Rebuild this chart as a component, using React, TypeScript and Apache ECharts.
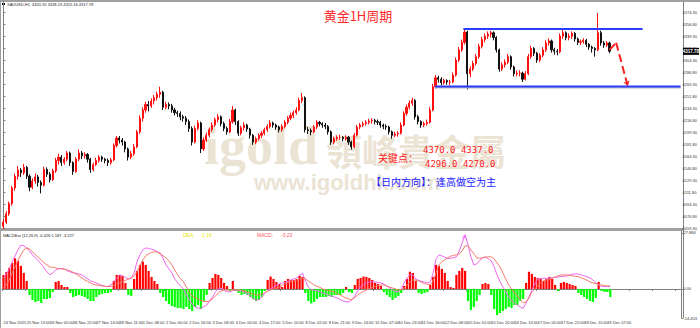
import React, { useEffect, useRef } from 'react';
import * as echarts from 'echarts';

// [open, close, low, high] per 2-hour bar
const candles: number[][] = [
  [4062,4068,4058,4072],[4068,4080,4065,4084],[4080,4095,4077,4098],[4095,4118,4092,4121],[4118,4135,4114,4139],
  [4135,4144,4130,4150],[4144,4140,4134,4147],[4140,4148,4137,4153],[4148,4135,4131,4150],[4135,4119,4113,4138],
  [4119,4128,4116,4132],[4128,4134,4124,4139],[4134,4126,4120,4137],[4126,4122,4110,4129],[4122,4145,4120,4149],
  [4145,4138,4134,4148],[4138,4130,4126,4141],[4130,4143,4128,4146],[4143,4158,4140,4162],[4158,4163,4152,4168],
  [4163,4155,4150,4166],[4155,4160,4152,4163],[4160,4169,4157,4172],[4169,4155,4150,4171],[4155,4142,4137,4157],
  [4142,4160,4140,4163],[4160,4169,4157,4174],[4169,4165,4160,4172],[4165,4167,4161,4170],[4167,4160,4155,4169],
  [4160,4145,4140,4162],[4145,4152,4142,4155],[4152,4158,4150,4162],[4158,4163,4155,4166],[4163,4160,4156,4165],
  [4160,4158,4154,4162],[4158,4155,4150,4161],[4155,4159,4152,4162],[4159,4180,4157,4183],[4180,4191,4177,4194],
  [4191,4188,4183,4194],[4188,4185,4180,4191],[4185,4175,4170,4187],[4175,4163,4158,4177],[4163,4168,4160,4172],
  [4168,4178,4165,4182],[4178,4200,4176,4203],[4200,4220,4197,4224],[4220,4232,4215,4236],[4232,4240,4228,4244],
  [4240,4238,4230,4245],[4238,4245,4235,4249],[4245,4250,4240,4254],[4250,4255,4246,4259],[4255,4258,4250,4266],
  [4258,4236,4232,4260],[4236,4240,4233,4244],[4240,4238,4233,4243],[4238,4232,4228,4241],[4232,4228,4224,4235],
  [4228,4227,4222,4231],[4227,4222,4217,4230],[4222,4220,4215,4225],[4220,4215,4210,4223],[4215,4205,4200,4218],
  [4205,4185,4180,4208],[4185,4205,4183,4209],[4205,4213,4202,4217],[4213,4175,4169,4215],[4175,4188,4172,4192],
  [4188,4195,4185,4199],[4195,4203,4192,4206],[4203,4210,4200,4214],[4210,4218,4207,4221],[4218,4222,4214,4226],
  [4222,4212,4208,4224],[4212,4205,4201,4215],[4205,4200,4196,4208],[4200,4215,4198,4219],[4215,4232,4212,4238],
  [4232,4215,4210,4234],[4215,4198,4194,4217],[4198,4206,4195,4209],[4206,4210,4202,4214],[4210,4204,4200,4212],
  [4204,4195,4190,4206],[4195,4185,4181,4197],[4185,4190,4182,4193],[4190,4195,4187,4198],[4195,4198,4191,4201],
  [4198,4203,4195,4206],[4203,4208,4200,4211],[4208,4213,4205,4217],[4213,4210,4206,4215],[4210,4207,4203,4212],
  [4207,4203,4199,4209],[4203,4208,4200,4211],[4208,4214,4205,4217],[4214,4220,4211,4223],[4220,4224,4217,4228],
  [4224,4228,4220,4231],[4228,4232,4225,4236],[4232,4246,4230,4250],[4246,4250,4242,4257],[4250,4203,4199,4252],
  [4203,4202,4197,4207],[4202,4200,4195,4205],[4200,4207,4198,4210],[4207,4214,4204,4217],[4214,4212,4208,4216],
  [4212,4210,4206,4214],[4210,4208,4204,4213],[4208,4200,4196,4210],[4200,4185,4181,4202],[4185,4190,4182,4193],
  [4190,4192,4187,4195],[4192,4192,4188,4196],[4192,4190,4186,4194],[4190,4192,4187,4195],[4192,4185,4181,4194],
  [4185,4178,4174,4187],[4178,4195,4176,4198],[4195,4207,4193,4210],[4207,4210,4204,4213],[4210,4212,4207,4215],
  [4212,4214,4209,4217],[4214,4216,4211,4219],[4216,4217,4212,4220],[4217,4215,4211,4219],[4215,4214,4210,4218],
  [4214,4210,4206,4216],[4210,4208,4204,4212],[4208,4207,4203,4211],[4207,4200,4196,4209],[4200,4195,4190,4202],
  [4195,4197,4192,4200],[4197,4198,4193,4201],[4198,4210,4196,4214],[4210,4227,4208,4230],[4227,4236,4224,4240],
  [4236,4242,4233,4246],[4242,4246,4238,4250],[4246,4222,4218,4248],[4222,4215,4211,4225],[4215,4210,4206,4217],
  [4210,4212,4207,4215],[4212,4214,4209,4218],[4214,4232,4212,4236],[4232,4266,4230,4270],[4266,4279,4263,4283],
  [4279,4277,4272,4282],[4277,4272,4268,4280],[4272,4275,4269,4278],[4275,4273,4269,4277],[4273,4273,4268,4276],
  [4273,4283,4271,4287],[4283,4305,4281,4309],[4305,4320,4302,4324],[4320,4331,4317,4335],[4331,4346,4328,4350],
  [4346,4285,4262,4348],[4285,4292,4280,4296],[4292,4300,4289,4304],[4300,4310,4297,4314],[4310,4325,4307,4329],
  [4325,4335,4322,4339],[4335,4340,4331,4344],[4340,4343,4336,4347],[4343,4345,4338,4348],[4345,4338,4334,4347],
  [4338,4320,4316,4340],[4320,4292,4288,4322],[4292,4298,4289,4302],[4298,4302,4294,4306],[4302,4310,4299,4314],
  [4310,4295,4291,4312],[4295,4285,4281,4297],[4285,4286,4281,4290],[4286,4286,4281,4290],[4286,4277,4273,4288],
  [4277,4285,4275,4289],[4285,4310,4283,4314],[4310,4322,4307,4326],[4322,4315,4311,4324],[4315,4305,4301,4317],
  [4305,4312,4302,4315],[4312,4320,4309,4324],[4320,4330,4317,4334],[4330,4333,4326,4337],[4333,4320,4316,4335],
  [4320,4318,4313,4323],[4318,4317,4312,4321],[4317,4340,4315,4344],[4340,4345,4336,4349],[4345,4338,4334,4347],
  [4338,4340,4334,4344],[4340,4344,4336,4347],[4344,4336,4332,4346],[4336,4331,4327,4338],[4331,4332,4327,4335],
  [4332,4334,4329,4337],[4334,4328,4324,4336],[4328,4324,4320,4330],[4324,4322,4316,4326],[4322,4320,4310,4324],
  [4320,4345,4318,4374],[4345,4330,4326,4348],[4330,4327,4323,4333],[4327,4330,4324,4333],[4330,4318,4315,4332]
];

const macdHist: number[] = [
  7,8.5,10.5,13,15.3,14,11.5,8,4,-3,
  -5.5,-6.5,-6,-7,-5,-5,-4.5,-1.5,3.5,4,
  2,1,1,-2,-4,-3.5,-3,-3.5,-4,-5,
  -6,-6,-4,-3,-2.5,-2,-2,-1.5,4,7,
  7,6.5,3,-3,-3.5,5,9,12,13.6,12,
  9,6,4,2.5,-2,-4,-6,-7.5,-8.5,-9,
  -9.5,-9.5,-10,-9,-10,-11,-9,-8,-10,-6,
  -3,3,5.5,7.5,7,5.5,3,1.5,-1,4,
  -1,-2,-3,-2.5,-3,-4,-5,-6,-5.5,-4,
  -1,4.5,6.2,5,3.5,2.5,1,4,5,4.5,
  4.5,5,6.5,6,-2,-6,-7.2,-6.5,-5,-4,
  -4,-4,-3.5,-4,-3,-3,-3,-2,1,-1.5,
  -2,2,5,5.5,6.2,6,5.5,4.5,3,2.5,
  1.5,-1.5,-3,-4,-5.5,-4.5,-3.5,-2,1.5,5,
  8.6,8,4,-2,-2.5,-2,-1.5,2,6,12,
  11.5,10,8,4,1,0.5,7,9,10.5,9,
  -6,-10.5,-9,-6,-3,2.5,3,2.5,-3,-10,
  -13,-12,-11,-10,-9,-9.5,-8,-8,-6,-5,
  3,8.6,7.5,6,5.5,5,4,5,6,5,
  2,-1,3,3.5,3,2.5,2,1.5,-2,-3,
  -4,-5,-6,-6.5,-4.5,3.5,-1,-1.5,-1.5,-4
];

const macdLine: number[] = [
  5.5,7.5,10,13.5,16.5,19.5,21.8,21.5,20.4,19,
  17,15.5,14,12.5,10.5,8.5,7,8,9.5,10,
  10.3,10,9,8.5,8,7.8,7.4,7,6,5,
  4,3.6,3,2.3,1.8,1.3,1.2,2,3.6,5.5,
  7,6.5,5.8,5,5.3,8,13.6,17,19.5,20.4,
  20.2,19.8,19.4,18.5,18,15,12,10,8,5,
  3,1.5,0,-3,-5.5,-7.5,-9,-9.6,-9.5,-8.8,
  -8,-6,-4,-1.5,0,0.3,-0.5,-1.5,-1.4,-0.8,
  -0.5,-0.8,-1,-1.5,-2.5,-3.5,-4.8,-5.5,-5.2,-4,
  -2,-1,0,1,1.8,2.5,3,3.2,3.8,4.5,
  5,5.5,7,7.8,4,1,-0.5,-0.5,-1,-1.4,
  -2,-2.5,-3,-3.5,-4,-4.5,-5.3,-6,-6.3,-6.5,
  -5.5,-3.5,-1,1.2,2.2,3,3.5,3.6,3.5,3.3,
  3,2.5,1.5,0.5,-0.5,-1.2,-1.4,0,3,5.5,
  7,7,5,4.3,3.8,3.5,3,3.5,8,15,
  17,16.5,15.8,15.3,15.3,15.6,16,19,23,27,
  22,16,12,12.5,14,15.6,16,15,14,11,
  7,3.6,1,-1.5,-4,-5.5,-7,-8,-9,-9.6,
  -7,-4,-0.5,2.5,5,5.3,5.3,5.3,5.5,5.5,
  5.8,6,6.2,6.3,6.5,7,7.3,7.5,7.5,7,
  6.5,6,5.5,4.5,3,2,1.2,1.2,1.2,1.2
];

const signalLine: number[] = [
  0.5,2,4.5,8,11,14,17,19.5,20.4,20,
  18.5,17,15.8,14.5,13,12,11,10.8,10.5,10.2,
  10,9.8,9.5,9,8.3,7.5,6.5,5.5,4.5,3.8,
  3,2.3,2,1.7,1.5,1.3,1.2,1.3,1.8,2.5,
  3,3.6,4.3,5,5.5,6.5,8.5,11.5,14.5,16.5,
  17.5,18.2,18.6,18.4,17.5,16.5,15.5,14,12,9.5,
  7,5.2,3.5,1,-1.5,-3.5,-4.3,-5,-5.8,-6.2,
  -6.3,-6,-5,-3.5,-2,-1,-0.5,-0.5,-0.5,-0.5,
  -0.5,-0.5,-0.6,-1,-1.5,-2,-2.5,-3,-3,-2.5,
  -1.8,-1,-0.5,0,0.5,1,1.8,2.5,3.2,3.6,
  4,4.5,5,5.3,5,4,3,2,1.3,0.8,
  0,-0.5,-0.8,-1.2,-1.5,-2.3,-3,-3.8,-4.5,-5,
  -5.3,-4.3,-3,-2,-1.2,-0.5,0.2,0.8,1.3,1.7,
  2,2,1.5,1,0.5,0,-0.5,-0.3,0.5,2,
  3.5,4.5,4.5,4,3.3,2.7,2.3,2,4,8,
  12,13.6,14.5,15.5,16.3,16.8,17,17.5,19,21.5,
  21.5,19.5,17.5,15.5,15.3,15.5,15.8,16,16,15,
  13,11,8,5,2,0,-2,-3.5,-5.5,-6.8,
  -6.5,-4.5,-1.5,0,1.5,3,4,4.5,5,5.5,
  6,6.5,7,7,7,6.8,6.5,6.3,6.2,5.5,
  5,4.3,3.5,3,2.7,2.3,2,1.7,1.5,1.5
];

const xTickLabels: string[] = [
  '24 Nov 2025','25 Nov 13:00','26 Nov 05:00','26 Nov 22:00','27 Nov 14:00','28 Nov 11:00',
  '1 Dec 08:00','2 Dec 00:00','2 Dec 16:00','3 Dec 08:00','4 Dec 00:00','4 Dec 17:00',
  '5 Dec 10:00','8 Dec 02:00','8 Dec 21:00','9 Dec 14:00','10 Dec 07:00','10 Dec 23:00',
  '11 Dec 16:00','12 Dec 08:00','15 Dec 01:00','15 Dec 20:00','16 Dec 13:00','17 Dec 05:00',
  '17 Dec 22:00','18 Dec 15:00','19 Dec 07:00'
];

const priceTicks: number[] = [
  4374.3,4356.8,4339.3,4321.8,4304.3,4286.8,4269.3,4251.8,4234.3,4216.8,
  4199.3,4181.8,4164.3,4146.8,4129.3,4111.8,4094.3,4076.8,4059.3
];
const macdTicks: number[] = [27.884, 0, -14.453];

const resistanceLine: number[][] = [[158.6, 4350.5], [220.4, 4350.5]];
const supportLine: number[][] = [[148.9, 4266.4], [233.5, 4266.4]];
const arrowPath: number[][] = [[209, 4320], [211.3, 4330.4], [215.3, 4267]];
const lastPrice = 4317.78;
const totalSlots = 234;

const categories: string[] = Array.from({ length: totalSlots }, (_, i) => String(i));

const FONT = 'Liberation Sans';
const WM = '#ebe4d5';

function buildGraphics(tagY: number | null) {
  const g: any[] = [
    { id: 'wm1', type: 'text', x: 204, y: 173, z: -1, silent: true,
      style: { text: 'igold', fill: WM, fontSize: 54, fontWeight: 'bold', fontFamily: 'Liberation Serif', textVerticalAlign: 'bottom' } },
    { id: 'wm2', type: 'text', x: 326, y: 150, z: -1, silent: true,
      style: { text: '領峰貴金屬', fill: WM, fontSize: 36, fontWeight: 'bold', fontFamily: 'Noto Sans CJK TC', textVerticalAlign: 'middle' } },
    { id: 'wm3', type: 'text', x: 254, y: 182, z: -1, silent: true,
      style: { text: 'www.igoldhk.com', fill: WM, fontSize: 22, fontWeight: 'bold', fontFamily: FONT, textVerticalAlign: 'middle' } },
    { id: 'top', type: 'rect', shape: { x: 0, y: 0, width: 700, height: 2 }, style: { fill: '#a0a0a0' }, silent: true },
    { id: 'left', type: 'rect', shape: { x: 0, y: 0, width: 1, height: 328 }, style: { fill: '#a0a0a0' }, silent: true },
    { id: 'sep', type: 'rect', shape: { x: 0, y: 228, width: 684, height: 3 }, style: { fill: '#a0a0a0' }, silent: true },
    { id: 'vline', type: 'line', shape: { x1: 683.5, y1: 2, x2: 683.5, y2: 318 }, style: { stroke: '#808080', lineWidth: 1 }, silent: true },
    { id: 'info1', type: 'rect', shape: { x: 2, y: 3, width: 3, height: 2 }, style: { fill: '#000' }, silent: true },
    { id: 'info', type: 'text', x: 7, y: 4.5, silent: true,
      style: { text: 'XAUUSD,H1  4320.92 4328.23 4315.16 4317.78', fill: '#222', fontSize: 4, fontFamily: FONT, textVerticalAlign: 'middle' } },
    { id: 'title', type: 'text', x: 358, y: 15, z: 100, silent: true,
      style: { text: '黄金1H周期', fill: '#ff2a2a', fontSize: 13, fontFamily: 'Noto Sans CJK SC', textAlign: 'center', textVerticalAlign: 'middle' } },
    { id: 'k1', type: 'text', x: 378, y: 157, z: 100, silent: true,
      style: { text: '关键点：', fill: '#ff1a1a', fontSize: 10, fontFamily: 'Noto Sans CJK SC', textVerticalAlign: 'middle' } },
    { id: 'k2', type: 'text', x: 423, y: 150, z: 100, silent: true,
      style: { text: '4370.0 4337.0', fill: '#ff1a1a', fontSize: 9, fontFamily: 'DejaVu Sans Mono', textVerticalAlign: 'middle' } },
    { id: 'k3', type: 'text', x: 425, y: 164, z: 100, silent: true,
      style: { text: '4296.0 4270.0', fill: '#ff1a1a', fontSize: 9, fontFamily: 'DejaVu Sans Mono', textVerticalAlign: 'middle' } },
    { id: 'k4', type: 'text', x: 371, y: 181, z: 100, silent: true,
      style: { text: '【日内方向】：逢高做空为主', fill: '#1a1aff', fontSize: 10, fontFamily: 'Noto Sans CJK SC', textVerticalAlign: 'middle' } },
    { id: 'm1', type: 'text', x: 3, y: 235, silent: true,
      style: { text: 'MACDEat (12,26,9) -0.426 1.187 -3.227', fill: '#222', fontSize: 4, fontFamily: FONT, textVerticalAlign: 'middle' } },
    { id: 'm2', type: 'text', x: 183, y: 234.5, silent: true,
      style: { text: 'DEA:', fill: '#e6e600', fontSize: 5, fontFamily: FONT, textVerticalAlign: 'middle' } },
    { id: 'm3', type: 'text', x: 202, y: 234.5, silent: true,
      style: { text: '1.19', fill: '#e6e600', fontSize: 5, fontFamily: FONT, textVerticalAlign: 'middle' } },
    { id: 'm4', type: 'text', x: 257, y: 234.5, silent: true,
      style: { text: 'MACD:', fill: '#ff5a5a', fontSize: 5, fontFamily: FONT, textVerticalAlign: 'middle' } },
    { id: 'm5', type: 'text', x: 281, y: 234.5, silent: true,
      style: { text: '-3.23', fill: '#ff5a5a', fontSize: 5, fontFamily: FONT, textVerticalAlign: 'middle' } },
    { id: 'm6', type: 'text', x: 462, y: 237, silent: true,
      style: { text: 'A', fill: '#ff66ff', fontSize: 6, fontFamily: FONT, textVerticalAlign: 'middle' } }
  ];
  if (tagY !== null) {
    g.push({ id: 'tagr', type: 'rect', z: 100, shape: { x: 683, y: tagY - 3.5, width: 16, height: 7 }, style: { fill: '#000' }, silent: true });
    g.push({ id: 'tagt', type: 'text', z: 101, x: 691, y: tagY, silent: true,
      style: { text: lastPrice.toFixed(2), fill: '#fff', fontSize: 4.5, fontWeight: 'bold', fontFamily: FONT, textAlign: 'center', textVerticalAlign: 'middle' } });
  }
  return g;
}

function buildOption(tagY: number | null): any {
  return {
    animation: false,
    backgroundColor: '#ffffff',
    grid: [
      { left: 2, top: 2, width: 681, height: 226 },
      { left: 2, top: 231, width: 681, height: 87 }
    ],
    xAxis: [
      { type: 'category', gridIndex: 0, data: categories, boundaryGap: true,
        axisLine: { show: false }, axisTick: { show: false }, axisLabel: { show: false }, splitLine: { show: false } },
      { type: 'category', gridIndex: 1, data: categories, boundaryGap: true,
        axisLine: { show: true, lineStyle: { color: '#808080', width: 1 } },
        axisTick: { show: true, interval: 7, length: 2, lineStyle: { color: '#808080' } },
        axisLabel: { show: true, interval: 7, fontSize: 4, fontFamily: FONT, color: '#333', align: 'left', margin: 2,
          formatter: (_v: string, idx: number) => (idx % 8 === 0 && xTickLabels[idx / 8]) ? xTickLabels[idx / 8] : '' },
        splitLine: { show: false } },
      { type: 'value', gridIndex: 0, min: -0.5, max: totalSlots - 0.5, show: false }
    ],
    yAxis: [
      { type: 'value', gridIndex: 0, position: 'right', min: 4059.3, max: 4390, scale: true,
        axisLine: { show: true, lineStyle: { color: '#808080' } },
        axisTick: { show: true, length: 2, customValues: priceTicks, lineStyle: { color: '#808080' } },
        axisLabel: { show: true, customValues: priceTicks, fontSize: 4, fontFamily: FONT, color: '#333', margin: 2,
          formatter: (v: number) => v.toFixed(2) },
        splitLine: { show: false } },
      { type: 'value', gridIndex: 1, position: 'right', min: -14.453, max: 28.88,
        axisLine: { show: true, lineStyle: { color: '#808080' } },
        axisTick: { show: true, length: 2, customValues: macdTicks, lineStyle: { color: '#808080' } },
        axisLabel: { show: true, customValues: macdTicks, fontSize: 4, fontFamily: FONT, color: '#333', margin: 2,
          formatter: (v: number) => (v === 0 ? '0.00' : String(v)) },
        splitLine: { show: false } }
    ],
    series: [
      { type: 'candlestick', xAxisIndex: 0, yAxisIndex: 0, data: candles, barWidth: 1.6,
        itemStyle: { color: '#ff1010', color0: '#111111', borderColor: '#ff1010', borderColor0: '#111111', borderWidth: 1 } },
      { type: 'bar', xAxisIndex: 1, yAxisIndex: 1, barWidth: 2.2,
        data: macdHist.map((v) => ({ value: v, itemStyle: { color: v >= 0 ? '#ff0000' : '#00ff00' } })) },
      { type: 'line', xAxisIndex: 1, yAxisIndex: 1, data: macdLine, symbol: 'none', lineStyle: { color: '#ee66ee', width: 1 } },
      { type: 'line', xAxisIndex: 1, yAxisIndex: 1, data: signalLine, symbol: 'none', lineStyle: { color: '#f47a6a', width: 1 } },
      { type: 'line', xAxisIndex: 2, yAxisIndex: 0, data: supportLine.map((p) => [p[0], p[1] - 1.5]), symbol: 'none',
        lineStyle: { color: '#b8b8b8', width: 2 }, z: 5 },
      { type: 'line', xAxisIndex: 2, yAxisIndex: 0, data: supportLine, symbol: 'none', lineStyle: { color: '#2a3cff', width: 2 }, z: 6 },
      { type: 'line', xAxisIndex: 2, yAxisIndex: 0, data: resistanceLine, symbol: 'none', lineStyle: { color: '#2a3cff', width: 2 }, z: 6 },
      { type: 'line', xAxisIndex: 2, yAxisIndex: 0, data: [], symbol: 'none', z: 7,
        markLine: { silent: true, symbol: ['none', 'none'], symbolSize: 5, label: { show: false },
          lineStyle: { color: '#ff2020', width: 2, type: 'dashed' },
          data: [
            [{ coord: arrowPath[0] }, { coord: arrowPath[1] }],
            [{ coord: arrowPath[1] }, { coord: arrowPath[2], symbol: 'arrow', symbolSize: 5 }]
          ] } }
    ],
    graphic: buildGraphics(tagY)
  };
}

export default function App() {
  const ref = useRef<HTMLDivElement>(null);
  useEffect(() => {
    if (!ref.current) return;
    const chart = echarts.init(ref.current, null, { renderer: 'svg' });
    chart.setOption(buildOption(null));
    const py = chart.convertToPixel({ yAxisIndex: 0 }, lastPrice) as number;
    chart.setOption(buildOption(typeof py === 'number' ? py : null), true);
    return () => chart.dispose();
  }, []);
  return (
    <div style={{ position: 'fixed', left: 0, top: 0, width: 700, height: 328, background: '#fff' }}>
      <div ref={ref} style={{ width: 700, height: 328 }} />
    </div>
  );
}
